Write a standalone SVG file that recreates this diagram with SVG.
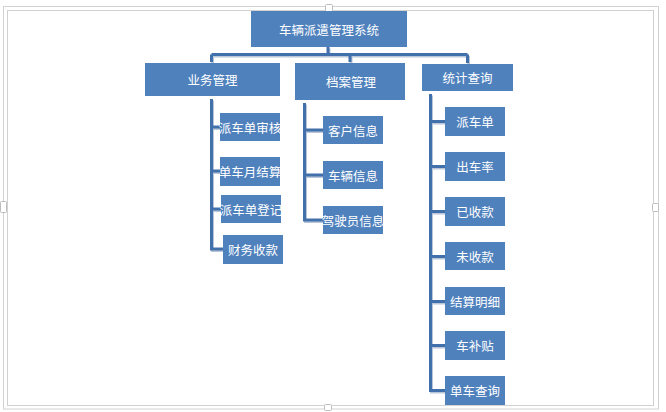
<svg xmlns="http://www.w3.org/2000/svg" width="666" height="412" viewBox="0 0 666 412">
<style>
.box{fill:#4F81BD}
.t{fill:#fff;font-family:"Noto Sans CJK SC","Microsoft YaHei",sans-serif;font-size:12.5px;text-anchor:middle;dominant-baseline:central}
.ln{fill:none;stroke:#4270AB;stroke-width:3}
.sh{fill:none;stroke:#B9C6D8;stroke-width:3}
.fr{fill:none;stroke:#D2D2D2;stroke-width:1}
.hd{fill:#fff;stroke:#BDBDBD;stroke-width:1}
</style>
<rect width="666" height="412" fill="#fff"/>
<g id="frame">
<rect class="fr" x="3.5" y="6.5" width="655" height="402.5"/>
<rect class="fr" x="7.5" y="10.5" width="646" height="395"/>
<rect class="hd" x="325.5" y="4.5" width="7" height="7" rx="1"/>
<rect class="hd" x="324.5" y="404.5" width="7" height="6" rx="1"/>
<rect class="hd" x="0.5" y="201.5" width="6" height="11" rx="1"/>
<rect class="hd" x="652.5" y="203.5" width="6" height="8" rx="1"/>
</g>
<g id="connectors">
<path class="sh" transform="translate(1,1.5)" d="M328,47V54.5 M211.5,54.5H467.5 M211.5,54.5V62 M350,54.5V62 M467.5,54.5V63 M211.5,99V249H223 M211.5,127H220 M211.5,171H220 M211.5,209H221 M304.5,103V220H323 M304.5,130H323 M304.5,175H323 M430.5,94V390.5H445 M430.5,121.5H445 M430.5,166.5H445 M430.5,211.5H445 M430.5,256.5H445 M430.5,301.5H445 M430.5,345.5H445"/>
<path class="ln" d="M328,47V54.5 M211.5,54.5H467.5 M211.5,54.5V62 M350,54.5V62 M467.5,54.5V63 M211.5,99V249H223 M211.5,127H220 M211.5,171H220 M211.5,209H221 M304.5,103V220H323 M304.5,130H323 M304.5,175H323 M430.5,94V390.5H445 M430.5,121.5H445 M430.5,166.5H445 M430.5,211.5H445 M430.5,256.5H445 M430.5,301.5H445 M430.5,345.5H445"/>
</g>
<g id="root"><rect class="box" x="251" y="11" width="156" height="36"/><text class="t" x="329" y="29">车辆派遣管理系统</text></g>
<g id="yewu"><rect class="box" x="145" y="63" width="135" height="33"/><text class="t" x="212.5" y="79.5">业务管理</text></g>
<g id="dangan"><rect class="box" x="295" y="63" width="110" height="37"/><text class="t" x="351" y="81.5">档案管理</text></g>
<g id="tongji"><rect class="box" x="422" y="64" width="91" height="27"/><text class="t" x="467.5" y="77.5">统计查询</text></g>
<g id="pcdsh"><rect class="box" x="220" y="113" width="60" height="28"/><text class="t" x="250" y="127">派车单审核</text></g>
<g id="dcyjs"><rect class="box" x="220" y="157" width="60" height="29"/><text class="t" x="250" y="171">单车月结算</text></g>
<g id="pcddj"><rect class="box" x="221" y="195" width="60" height="28"/><text class="t" x="251" y="209">派车单登记</text></g>
<g id="cwsk"><rect class="box" x="223" y="235" width="60" height="29"/><text class="t" x="253" y="249.5">财务收款</text></g>
<g id="khxx"><rect class="box" x="323" y="116" width="60" height="28"/><text class="t" x="353" y="130">客户信息</text></g>
<g id="clxx"><rect class="box" x="323" y="161" width="60" height="28"/><text class="t" x="353" y="175">车辆信息</text></g>
<g id="jsyxx"><rect class="box" x="323" y="206" width="60" height="28"/><text class="t" x="353" y="220">驾驶员信息</text></g>
<g id="pcd"><rect class="box" x="445" y="107" width="60" height="29"/><text class="t" x="475" y="121.5">派车单</text></g>
<g id="ccl"><rect class="box" x="445" y="152" width="60" height="29"/><text class="t" x="475" y="166.5">出车率</text></g>
<g id="ysk"><rect class="box" x="445" y="197" width="60" height="29"/><text class="t" x="475" y="211.5">已收款</text></g>
<g id="wsk"><rect class="box" x="445" y="242" width="60" height="28"/><text class="t" x="475" y="256">未收款</text></g>
<g id="jsmx"><rect class="box" x="445" y="287" width="60" height="28"/><text class="t" x="475" y="301">结算明细</text></g>
<g id="cbt"><rect class="box" x="445" y="331" width="60" height="29"/><text class="t" x="475" y="345.5">车补贴</text></g>
<g id="dccx"><rect class="box" x="445" y="376" width="60" height="29"/><text class="t" x="475" y="390.5">单车查询</text></g>
</svg>
